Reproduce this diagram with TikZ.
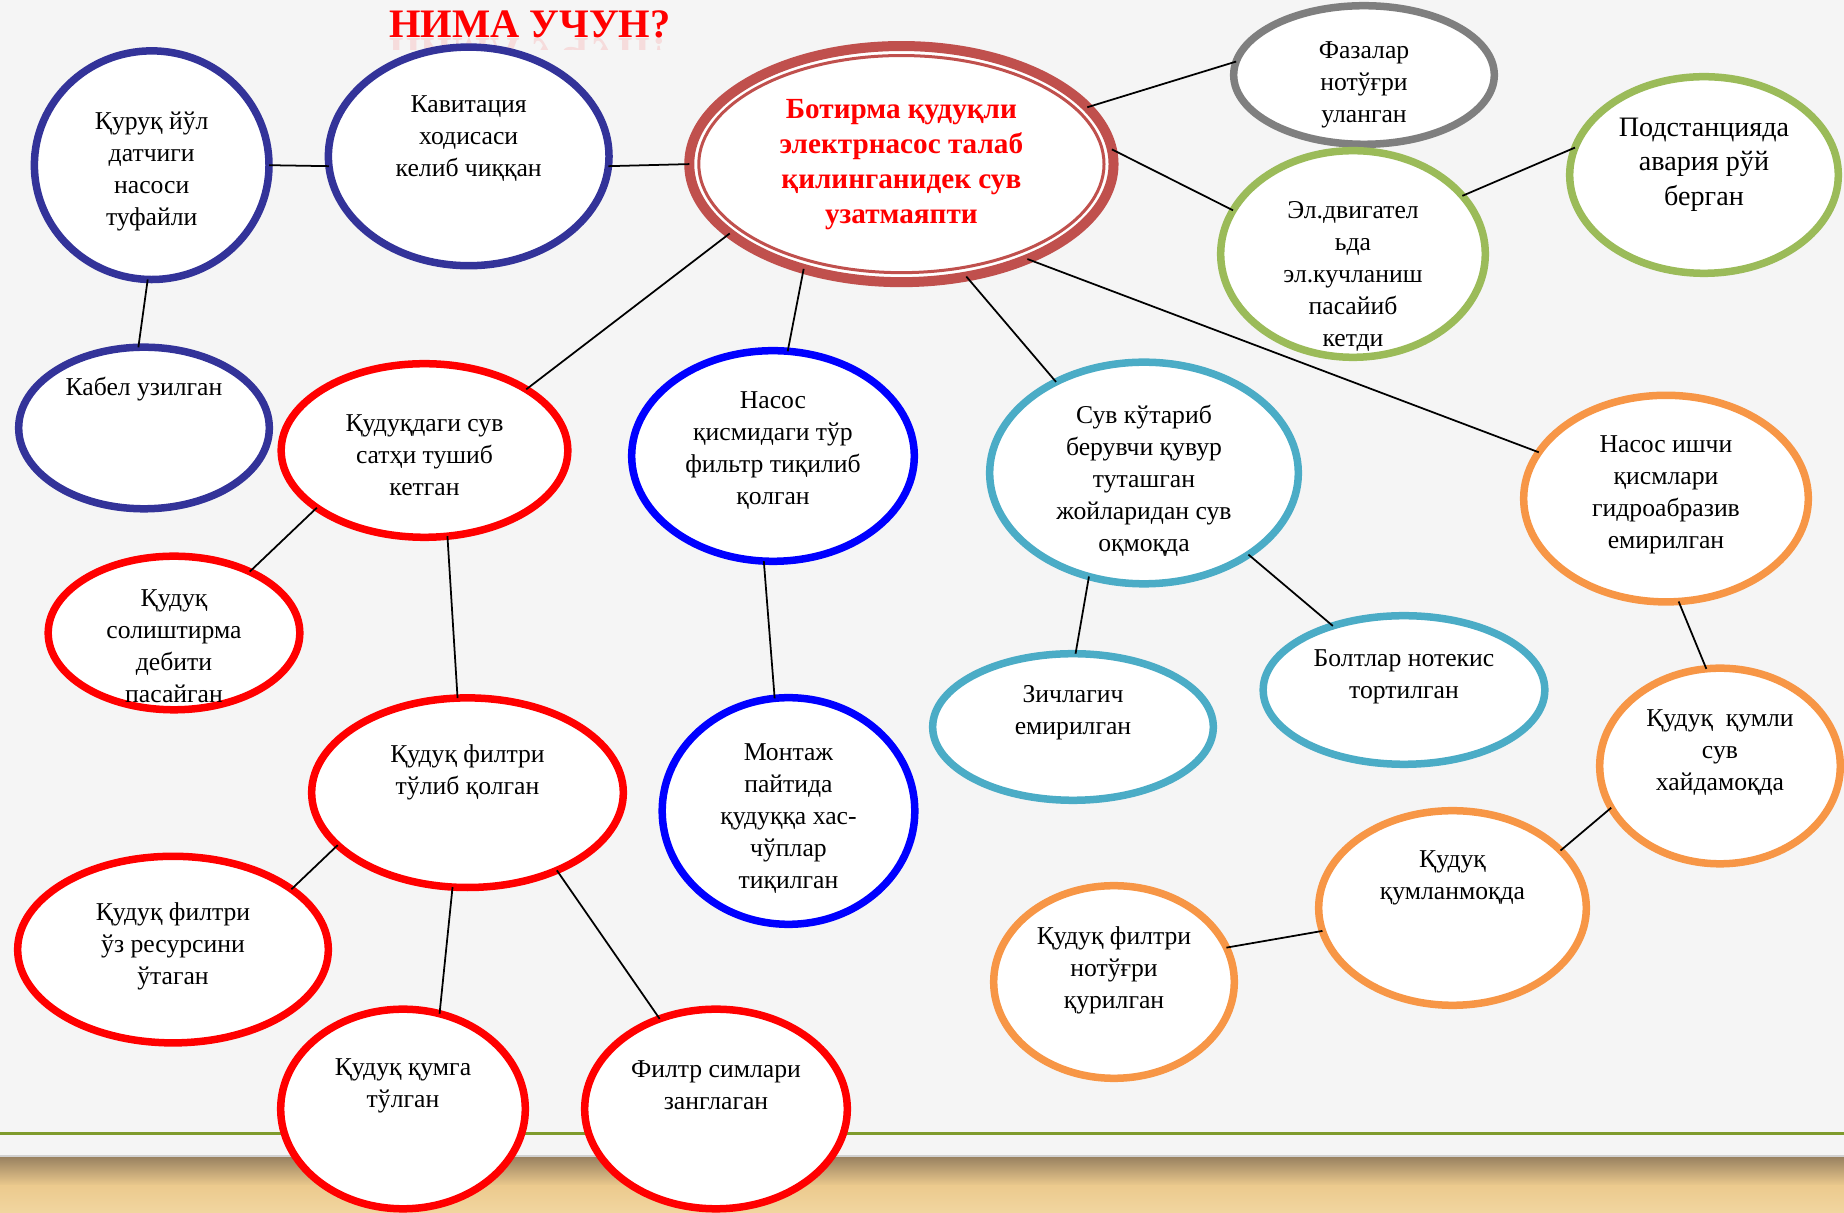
\documentclass[tikz,border=0pt]{standalone}
\usepackage{fontspec}
\setmainfont{Liberation Serif}
\usetikzlibrary{shapes.geometric}
\definecolor{navy}{HTML}{333399}
\definecolor{brick}{HTML}{C0504D}
\definecolor{ggray}{HTML}{7F7F7F}
\definecolor{lgreen}{HTML}{9BBB59}
\definecolor{cyanblue}{HTML}{4BACC6}
\definecolor{orng}{HTML}{F79646}
\definecolor{paper}{HTML}{F5F5F5}
\definecolor{rulegreen}{HTML}{7F9B2C}
\definecolor{woodtop}{HTML}{9C8462}
\definecolor{wood}{HTML}{ECCA8E}
\definecolor{woodlow}{HTML}{F1D6A0}
\tikzset{
	bub/.style  = {ellipse, draw=#1, line width=0.075cm, fill=white,
		inner sep=0pt, outer sep=0pt},
	txt/.style  = {align=center, inner sep=0pt, yshift=-0.035cm,
		font=\fontsize{7.3}{9.1}\selectfont},
	link/.style = {draw, line width=0.5pt}
}

\begin{document}
\begin{tikzpicture}[x=0.01cm, y=-0.01cm, line join=round]
	\useasboundingbox (0,0) rectangle (1844,1213);
	% slide background
	\fill[paper] (0,0) rectangle (1844,1213);
	\fill[black!18] (0,1155) rectangle (1844,1159);
	\shade[top color=woodtop, bottom color=wood] (0,1158) rectangle (1844,1186);
	\shade[top color=wood, bottom color=woodlow] (0,1186) rectangle (1844,1213);
	\draw[rulegreen, line width=0.035cm] (0,1133.5) -- (1844,1133.5);

	% title
	\begin{scope}
		\clip (370,38) rectangle (700,50);
		\node[font=\bfseries\fontsize{11.5}{12}\selectfont, text=red, opacity=0.1,
			anchor=base, inner sep=0pt, yscale=-1] (titlerefl) at (530,39) {НИМА УЧУН?};
	\end{scope}
	\node[font=\bfseries\fontsize{11.5}{12}\selectfont, text=red,
		anchor=base, inner sep=0pt] (title) at (530,37.5) {НИМА УЧУН?};

	\draw
	node at (151.7,165.2) [bub=navy, minimum width=2.345cm, minimum height=2.285cm] (kur) {}
	node at (468.7,156.4) [bub=navy, minimum width=2.805cm, minimum height=2.185cm] (kav) {}
	node at (901.4,164.1) [bub=brick, line width=0.1cm, minimum width=4.24cm, minimum height=2.36cm] (main) {}
	node at (1364,75) [bub=ggray, minimum width=2.605cm, minimum height=1.385cm] (faz) {}
	node at (1704,175) [bub=lgreen, minimum width=2.685cm, minimum height=1.965cm] (pod) {}
	node at (1353,254) [bub=lgreen, minimum width=2.645cm, minimum height=2.065cm] (dvig) {}
	node at (144,428) [bub=navy, minimum width=2.505cm, minimum height=1.615cm] (kab) {}
	node at (424.5,450.5) [bub=red, minimum width=2.865cm, minimum height=1.735cm] (sath) {}
	node at (773,456) [bub=blue, minimum width=2.825cm, minimum height=2.105cm] (tur) {}
	node at (1144,473) [bub=cyanblue, minimum width=3.085cm, minimum height=2.215cm] (quvur) {}
	node at (1666,498.6) [bub=orng, minimum width=2.845cm, minimum height=2.065cm] (ishchi) {}
	node at (174,633) [bub=red, minimum width=2.515cm, minimum height=1.535cm] (debit) {}
	node at (467.5,792.7) [bub=red, minimum width=3.115cm, minimum height=1.895cm] (tulib) {}
	node at (788.5,811) [bub=blue, minimum width=2.525cm, minimum height=2.265cm] (montaj) {}
	node at (1073,727) [bub=cyanblue, minimum width=2.805cm, minimum height=1.465cm] (zich) {}
	node at (1404,690) [bub=cyanblue, minimum width=2.815cm, minimum height=1.485cm] (bolt) {}
	node at (1720,766) [bub=orng, minimum width=2.405cm, minimum height=1.955cm] (qumli) {}
	node at (1452.5,908) [bub=orng, minimum width=2.675cm, minimum height=1.945cm] (qumlan) {}
	node at (1114,982) [bub=orng, minimum width=2.405cm, minimum height=1.925cm] (noto) {}
	node at (173,949.6) [bub=red, minimum width=3.105cm, minimum height=1.865cm] (resurs) {}
	node at (403,1109) [bub=red, minimum width=2.445cm, minimum height=1.995cm] (qumga) {}
	node at (716,1109) [bub=red, minimum width=2.625cm, minimum height=1.995cm] (sim) {};
	\draw[brick, line width=0.03cm] (main.center) ellipse [x radius=2.025cm, y radius=1.085cm];

	% texts
	\draw
	node at (151.7,168) [txt] (kur-t) {Қуруқ йўл\\датчиги\\насоси\\туфайли}
	node at (468.7,135) [txt] (kav-t) {Кавитация\\ходисаси\\келиб чиққан}
	node at (901.4,161) [txt, font=\bfseries\fontsize{8.3}{10}\selectfont, text=red] (main-t)
		{Ботирма қудуқли\\электрнасос талаб\\қилинганидек сув\\узатмаяпти}
	node at (1364,81) [txt] (faz-t) {Фазалар\\нотўғри\\уланган}
	node at (1704,161) [txt, font=\fontsize{8}{9.8}\selectfont] (pod-t) {Подстанцияда\\авария рўй\\берган}
	node at (1353,273) [txt] (dvig-t) {Эл.двигател\\ьда\\эл.кучланиш\\пасайиб\\кетди}
	node at (144,386) [txt] (kab-t) {Кабел узилган}
	node at (424.5,452) [txt] (sath-t) {Қудуқдаги сув\\сатҳи тушиб\\кетган}
	node at (773,447) [txt] (tur-t) {Насос\\қисмидаги тўр\\фильтр тиқилиб\\қолган}
	node at (1144,477.5) [txt] (quvur-t) {Сув кўтариб\\берувчи қувур\\туташган\\жойларидан сув\\оқмоқда}
	node at (1666,491.6) [txt] (ishchi-t) {Насос ишчи\\қисмлари\\гидроабразив\\емирилган}
	node at (174,643) [txt] (debit-t) {Қудуқ\\солиштирма\\дебити\\пасайган}
	node at (467.5,769) [txt] (tulib-t) {Қудуқ филтри\\тўлиб қолган}
	node at (788.5,815) [txt] (montaj-t) {Монтаж\\пайтида\\қудуққа хас-\\чўплар\\тиқилган}
	node at (1073,709) [txt] (zich-t) {Зичлагич\\емирилган}
	node at (1404,673) [txt] (bolt-t) {Болтлар нотекис\\тортилган}
	node at (1720,749) [txt] (qumli-t) {Қудуқ~ қумли\\сув\\хайдамоқда}
	node at (1452.5,874) [txt] (qumlan-t) {Қудуқ\\қумланмоқда}
	node at (1114,967) [txt] (noto-t) {Қудуқ филтри\\нотўғри\\қурилган}
	node at (173,943) [txt] (resurs-t) {Қудуқ филтри\\ўз ресурсини\\ўтаган}
	node at (403,1082) [txt] (qumga-t) {Қудуқ қумга\\тўлган}
	node at (716,1082) [txt] (sim-t) {Филтр симлари\\занглаган};

	% connectors
	\draw[link] (kur.0) -- (kav.184);
	\draw[link] (kav.-4) -- (main.180);
	\draw[link] (kur.268) -- (kab.94);
	\draw[link] (main.17) -- (faz.174);
	\draw[link] (main.4) -- (dvig.160);
	\draw[link] (dvig.28) -- (pod.168);
	\draw[link] (main.202) -- (sath.31);
	\draw[link] (main.227) -- (tur.82);
	\draw[link] (main.300) -- (quvur.134);
	\draw[link] (main.323) -- (ishchi.160);
	\draw[link] (sath.208) -- (debit.39);
	\draw[link] (sath.285) -- (tulib.96);
	\draw[link] (tur.265) -- (montaj.97);
	\draw[link] (quvur.242) -- (zich.88);
	\draw[link] (quvur.322) -- (bolt.138);
	\draw[link] (ishchi.277) -- (qumli.98);
	\draw[link] (qumli.201) -- (qumlan.28);
	\draw[link] (qumlan.190) -- (noto.17);
	\draw[link] (tulib.202) -- (resurs.27);
	\draw[link] (tulib.261) -- (qumga.69);
	\draw[link] (tulib.319) -- (sim.122);
\end{tikzpicture}
\end{document}
